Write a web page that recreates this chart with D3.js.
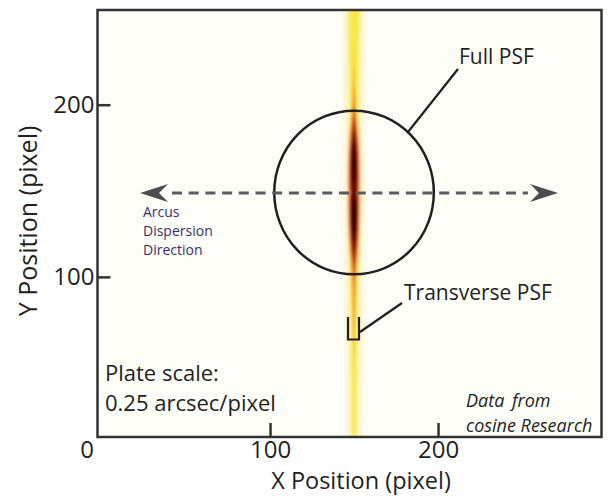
<!DOCTYPE html>
<html>
<head>
<meta charset="utf-8">
<script src="https://cdn.jsdelivr.net/npm/d3@7"></script>
<style>
  body { margin: 0; background: #fff; }
  svg { display: block; }
</style>
</head>
<body>
<svg id="chart" width="609" height="496"></svg>
<script>
// tick values
const xTicks = [100, 200]
const yTicks = [100, 200]

// PSF drawn as nested contour levels: half width (x pixels) at each y row
const psfCenter = 150
const psfRows = [7, 28, 52, 69, 87, 98, 107, 113, 121, 130, 139, 145, 149, 153, 162, 171, 180, 186, 194, 203, 226, 255]
const haloWidth = [5, 5.5, 6, 6, 6.3, 6.5, 6.5, 6.5, 6.5, 6.5, 6.5, 6.5, 6.5, 6.5, 6.5, 6.5, 6.5, 6.5, 6.7, 7, 7, 7]
const paleWidth = [2.6, 2.8, 3, 3.2, 3.4, 3.5, 3.5, 3.5, 3.5, 3.5, 3.5, 3.5, 3.5, 3.5, 3.5, 3.5, 3.5, 3.5, 3.6, 3.8, 4.2, 4.5]
const yellowWidth = [1, 1.2, 1.4, 1.6, 1.8, 2, 2, 2, 2, 2, 2, 2, 2, 2, 2, 2, 2, 2, 2.1, 2.2, 2.6, 3]
const orangeWidth = [0, 0, 0, 0.5, 1.1, 1.5, 2, 2.6, 3.2, 3.6, 3.8, 3.8, 3.6, 3.8, 3.8, 3.6, 3.2, 2.6, 1.6, 0.8, 0, 0]
const redWidth = [0, 0, 0, 0, 0, 0, 0.8, 1.6, 2.4, 2.8, 3, 3, 2.6, 3, 3, 2.8, 2.2, 1.4, 0.5, 0, 0, 0]
const darkWidth = [0, 0, 0, 0, 0, 0, 0, 0.6, 1.6, 2.2, 2.4, 2.2, 1.8, 2.2, 2.4, 2.2, 1.4, 0.5, 0, 0, 0, 0]
const blackWidth = [0, 0, 0, 0, 0, 0, 0, 0, 0.6, 1.6, 1.8, 1.2, 0.6, 0.9, 1.4, 1.4, 0.6, 0, 0, 0, 0, 0]

// full PSF circle and dispersion arrow (pixel units)
const fullPsf = { x: 150, y: 149, r: 47.5 }
const arrowY = 148.7
const arrowEnds = [22.6, 271.4]

const svg = d3.select('#chart')
const plotLeft = 97.5, plotTop = 10, plotRight = 601.5, plotBottom = 437
const ink = '#231f20'
const font = '"Open Sans", "Noto Sans", sans-serif'

const x = d3.scaleLinear().domain([-2.7, 297.3]).range([plotLeft, plotRight])
const y = d3.scaleLinear().domain([7, 255]).range([plotBottom, plotTop])

const defs = svg.append('defs')
defs.append('clipPath').attr('id', 'plot-clip')
  .append('rect')
  .attr('x', plotLeft).attr('y', plotTop - 6)
  .attr('width', plotRight - plotLeft).attr('height', plotBottom - plotTop + 6)
defs.append('filter').attr('id', 'soft')
  .attr('x', '-50%').attr('y', '-10%').attr('width', '200%').attr('height', '120%')
  .append('feGaussianBlur').attr('stdDeviation', 1.8)

// plot background
svg.append('rect')
  .attr('x', plotLeft).attr('y', plotTop)
  .attr('width', plotRight - plotLeft).attr('height', plotBottom - plotTop)
  .attr('fill', '#fefef8')

// psf image
const levels = [
  { w: haloWidth, color: '#fcf8d8' },
  { w: paleWidth, color: '#faf3a0' },
  { w: yellowWidth, color: '#f8e94c' },
  { w: orangeWidth, color: '#f5a030' },
  { w: redWidth, color: '#d4421c' },
  { w: darkWidth, color: '#8a1208' },
  { w: blackWidth, color: '#2a0404' }
]
const area = d3.area()
  .y(d => y(d.y))
  .x0(d => x(psfCenter - d.w))
  .x1(d => x(psfCenter + d.w))
  .curve(d3.curveBasis)

const psf = svg.append('g').attr('clip-path', 'url(#plot-clip)')
  .append('g').attr('filter', 'url(#soft)')
psf.selectAll('path').data(levels).enter()
  .append('path')
  .attr('d', l => area(psfRows.map((r, i) => ({ y: r, w: l.w[i] }))))
  .attr('fill', l => l.color)

// frame
svg.append('rect')
  .attr('x', plotLeft).attr('y', plotTop)
  .attr('width', plotRight - plotLeft).attr('height', plotBottom - plotTop)
  .attr('fill', 'none').attr('stroke', '#333').attr('stroke-width', 2.5)

// axes, ticks pointing inward
const yAxis = svg.append('g')
  .attr('transform', `translate(${plotLeft},0)`)
  .call(d3.axisLeft(y).tickValues(yTicks).tickSize(-13).tickPadding(3))
const xAxis = svg.append('g')
  .attr('transform', `translate(0,${plotBottom})`)
  .call(d3.axisBottom(x).tickValues(xTicks).tickSize(-14).tickPadding(4))
for (const ax of [xAxis, yAxis]) {
  ax.select('.domain').remove()
  ax.selectAll('line').attr('stroke', '#333').attr('stroke-width', 2.5)
  ax.selectAll('text')
    .attr('fill', ink)
    .style('font-family', font)
    .style('font-size', '24px')
}
svg.append('text')
  .attr('x', 87).attr('y', 458)
  .attr('text-anchor', 'middle')
  .attr('fill', ink)
  .style('font-family', font).style('font-size', '24px')
  .text('0')

// axis titles
svg.append('text')
  .attr('x', (x(100) + x(200)) / 2 + 7).attr('y', 489)
  .attr('text-anchor', 'middle')
  .attr('fill', ink)
  .style('font-family', font).style('font-size', '23.5px')
  .text('X Position (pixel)')
svg.append('text')
  .attr('transform', 'translate(37,221) rotate(-90)')
  .attr('text-anchor', 'middle')
  .attr('fill', ink)
  .style('font-family', font).style('font-size', '25px')
  .text('Y Position (pixel)')

// full psf circle
svg.append('ellipse')
  .attr('cx', x(fullPsf.x)).attr('cy', y(fullPsf.y))
  .attr('rx', x(fullPsf.r) - x(0)).attr('ry', y(0) - y(fullPsf.r))
  .attr('fill', 'none').attr('stroke', ink).attr('stroke-width', 2.5)

// dispersion arrow
const ay = y(arrowY)
const headLen = 28, headHalf = 9, notch = 19
const x0 = x(arrowEnds[0]), x1 = x(arrowEnds[1])
svg.append('line')
  .attr('x1', x0 + 32).attr('x2', x1 - 30)
  .attr('y1', ay).attr('y2', ay)
  .attr('stroke', '#5c5c5c').attr('stroke-width', 3)
  .attr('stroke-dasharray', '10,6.7')
svg.append('path')
  .attr('d', `M${x0},${ay} L${x0 + headLen},${ay - headHalf} L${x0 + notch},${ay} L${x0 + headLen},${ay + headHalf} Z`)
  .attr('fill', '#4d4d4d')
svg.append('path')
  .attr('d', `M${x1},${ay} L${x1 - headLen},${ay - headHalf} L${x1 - notch},${ay} L${x1 - headLen},${ay + headHalf} Z`)
  .attr('fill', '#4d4d4d')

svg.append('g')
  .selectAll('text')
  .data(['Arcus', 'Dispersion', 'Direction'])
  .enter().append('text')
  .attr('x', 143).attr('y', (d, i) => 217 + i * 19)
  .attr('fill', '#3b2f6a')
  .style('font-family', font).style('font-size', '14px')
  .text(d => d)

// annotations
svg.append('line')
  .attr('x1', 458).attr('y1', 69).attr('x2', 408).attr('y2', 132)
  .attr('stroke', ink).attr('stroke-width', 2.2)
svg.append('text')
  .attr('x', 459).attr('y', 64)
  .attr('fill', ink)
  .style('font-family', font).style('font-size', '21px')
  .text('Full PSF')

svg.append('path')
  .attr('d', 'M348,317 L348,339.5 L359,339.5 L359,317')
  .attr('fill', 'none').attr('stroke', ink).attr('stroke-width', 2.2)
svg.append('line')
  .attr('x1', 402).attr('y1', 303).attr('x2', 360).attr('y2', 332)
  .attr('stroke', ink).attr('stroke-width', 2.2)
svg.append('text')
  .attr('x', 404).attr('y', 300)
  .attr('fill', ink)
  .style('font-family', font).style('font-size', '21px')
  .text('Transverse PSF')

svg.append('text')
  .attr('x', 105).attr('y', 381)
  .attr('fill', ink)
  .style('font-family', font).style('font-size', '22px')
  .text('Plate scale:')
svg.append('text')
  .attr('x', 105).attr('y', 411)
  .attr('fill', ink)
  .style('font-family', font).style('font-size', '22px')
  .text('0.25 arcsec/pixel')

svg.append('text')
  .attr('x', 466).attr('y', 407)
  .attr('fill', ink)
  .style('font-family', font).style('font-size', '18px').style('font-style', 'italic')
  .style('word-spacing', '3px')
  .text('Data from')
svg.append('text')
  .attr('x', 466).attr('y', 432)
  .attr('fill', ink)
  .style('font-family', font).style('font-size', '18px').style('font-style', 'italic')
  .text('cosine Research')
</script>
</body>
</html>
